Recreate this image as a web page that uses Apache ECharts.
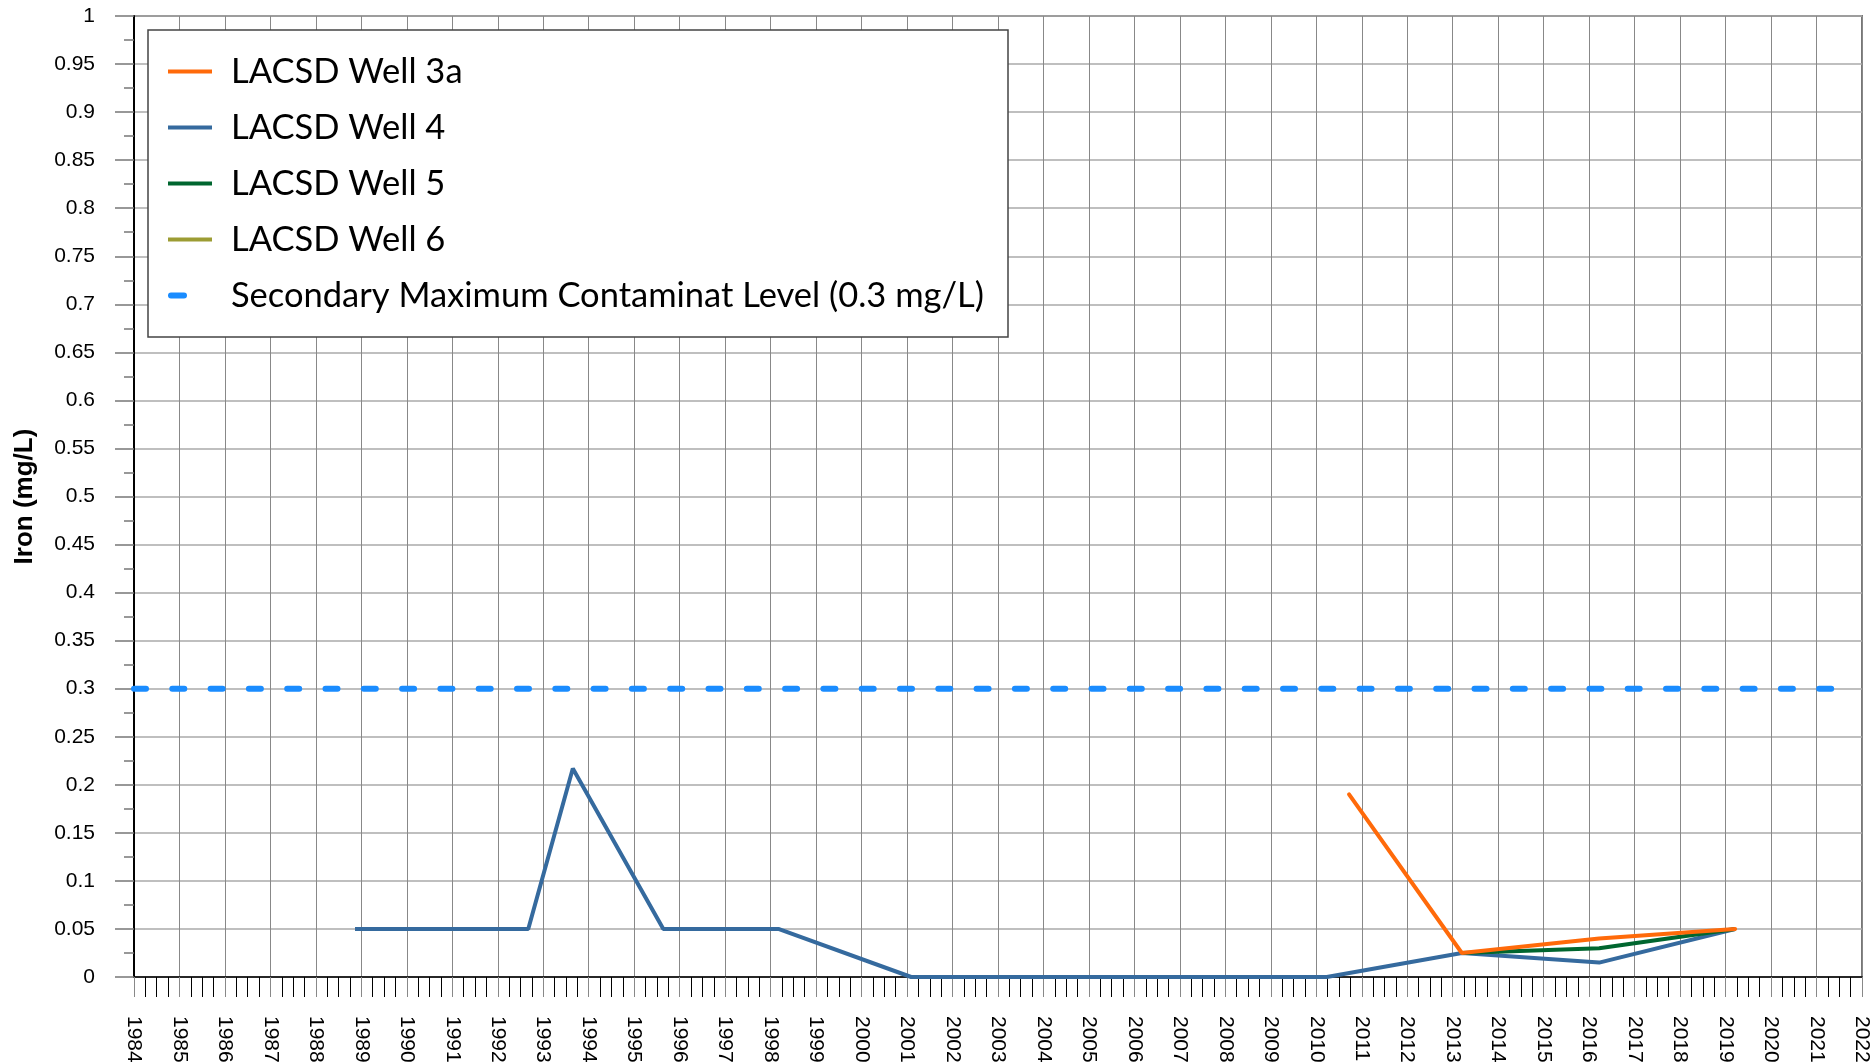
<!DOCTYPE html>
<html>
<head>
<meta charset="utf-8">
<script src="https://cdn.jsdelivr.net/npm/echarts@6/dist/echarts.min.js"></script>
<style>
html,body{margin:0;padding:0;background:#fff;}
#chart{width:1874px;height:1064px;}
</style>
</head>
<body>
<div id="chart"></div>
<script>
// ---- data ----
const seriesNames = ['LACSD Well 3a', 'LACSD Well 4', 'LACSD Well 5', 'LACSD Well 6', 'Secondary Maximum Contaminat Level (0.3 mg/L)'];

const well3aYears = [2010.72, 2013.2, 2016.22, 2019.21];
const well3aIron  = [0.19, 0.025, 0.04, 0.05];

const well4Years = [1988.86, 1992.67, 1993.65, 1995.64, 1998.17, 2001.09, 2010.23, 2013.2, 2016.22, 2019.21];
const well4Iron  = [0.05, 0.05, 0.217, 0.05, 0.05, 0, 0, 0.025, 0.015, 0.05];

const well5Years = [2013.2, 2016.22, 2019.21];
const well5Iron  = [0.025, 0.03, 0.05];

const well6Years = [];
const well6Iron  = [];

const smclYears = [1984, 2021.6];
const smclIron  = [0.3, 0.3];

const yearMin = 1984, yearMax = 2022;
const ironMin = 0, ironMax = 1, ironStep = 0.05;

// ---- build ----
function pairs(xs, ys){ return xs.map((x, i) => [x, ys[i]]); }

const legendFont = 'Lato';
const smclText = seriesNames[4];
const cnv = document.createElement('canvas').getContext('2d');
cnv.font = '31px ' + legendFont;
const w31 = cnv.measureText(smclText).width;
const legendSize = Math.min(35, Math.max(28, Math.round(31 * 757 / w31 * 2) / 2));
cnv.font = legendSize + 'px ' + legendFont;
const maxTextW = cnv.measureText(smclText).width;
const legendLeft = 148, legendRight = 1008;
const padLeft = 20, iconW = 44, textPadL = 14;
const padRight = Math.max(6, (legendRight - legendLeft) - padLeft - iconW - 5 - textPadL - maxTextW);
const itemH = legendSize;            // text box height used by the legend layout
const itemGap = Math.round(55.4 - itemH);
const padTop = Math.round(71.7 - 30 - itemH / 2);
const padBottom = Math.max(6, Math.round(304 - padTop - (5 * itemH + 4 * itemGap)));

const solidIcon = 'path://M0,1h44v4h-44z M0,0L0,6';
const dashIcon = 'path://M3,0h13a3,3 0 0 1 0,6h-13a3,3 0 0 1 0,-6z M44,0L44,6';

const chart = echarts.init(document.getElementById('chart'), null, {renderer: 'canvas'});
const axisFont = '"Liberation Sans", Arial, sans-serif';

const option = {
  animation: false,
  backgroundColor: '#fff',
  grid: {left: 134, right: 12, top: 16, bottom: 87, show: true, borderColor: '#777', borderWidth: 2,
    backgroundColor: 'transparent', containLabel: false, outerBoundsMode: 'none'},
  legend: {
    orient: 'vertical', left: legendLeft, top: 30,
    backgroundColor: '#fff', borderColor: '#444', borderWidth: 1.5,
    padding: [padTop, padRight, padBottom, padLeft],
    itemWidth: iconW, itemHeight: 6, itemGap: itemGap,
    itemStyle: {borderWidth: 0},
    textStyle: {fontFamily: legendFont, fontSize: legendSize, color: '#000', padding: [0, 0, 0, textPadL]},
    data: [
      {name: seriesNames[0], icon: solidIcon},
      {name: seriesNames[1], icon: solidIcon},
      {name: seriesNames[2], icon: solidIcon},
      {name: seriesNames[3], icon: solidIcon},
      {name: seriesNames[4], icon: dashIcon}
    ]
  },
  xAxis: {
    type: 'value', min: yearMin, max: yearMax, interval: 1,
    axisLine: {show: true, onZero: false, lineStyle: {color: '#000', width: 1.5}},
    axisTick: {show: true, length: 20, lineStyle: {color: '#888', width: 1}},
    minorTick: {show: true, splitNumber: 4, length: 20, lineStyle: {color: '#000', width: 1}},
    axisLabel: {rotate: -90, margin: 39, fontSize: 21, fontFamily: axisFont, color: '#000',
      formatter: v => String(Math.round(v)), showMinLabel: true, showMaxLabel: true, hideOverlap: false},
    splitLine: {show: true, lineStyle: {color: '#888', width: 1}}
  },
  yAxis: {
    type: 'value', min: ironMin, max: ironMax, interval: ironStep,
    name: 'Iron (mg/L)', nameLocation: 'middle', nameGap: 96,
    nameTextStyle: {fontFamily: axisFont, fontSize: 26, fontWeight: 'bold', color: '#000'},
    axisLine: {show: true, lineStyle: {color: '#000', width: 2}},
    axisTick: {show: true, length: 19, lineStyle: {color: '#777', width: 1.5}},
    minorTick: {show: true, splitNumber: 2, length: 10, lineStyle: {color: '#777', width: 1.5}},
    axisLabel: {margin: 39, fontSize: 21, fontFamily: axisFont, color: '#000'},
    splitLine: {show: true, lineStyle: {color: '#aaa', width: 1.5}}
  },
  series: [
    {name: seriesNames[1], type: 'line', data: pairs(well4Years, well4Iron), symbol: 'none', color: '#356a9e', lineStyle: {width: 4, color: '#356a9e'}, z: 2},
    {name: seriesNames[3], type: 'line', data: pairs(well6Years, well6Iron), symbol: 'none', color: '#9c9c33', lineStyle: {width: 4, color: '#9c9c33'}, z: 3},
    {name: seriesNames[2], type: 'line', data: pairs(well5Years, well5Iron), symbol: 'none', color: '#00662f', lineStyle: {width: 4, color: '#00662f'}, z: 4},
    {name: seriesNames[0], type: 'line', data: pairs(well3aYears, well3aIron), symbol: 'none', color: '#ff6a0a', lineStyle: {width: 4, color: '#ff6a0a', cap: 'round'}, z: 5},
    {name: seriesNames[4], type: 'line', data: pairs(smclYears, smclIron), symbol: 'none', color: '#1a8cff', lineStyle: {width: 6, color: '#1a8cff', type: [12, 26.3], cap: 'round'}, z: 6}
  ]
};
chart.setOption(option);
</script>
</body>
</html>
